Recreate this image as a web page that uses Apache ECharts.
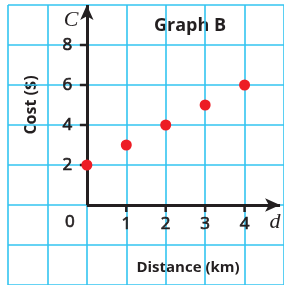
<!DOCTYPE html>
<html>
<head>
<meta charset="utf-8">
<script src="https://cdn.jsdelivr.net/npm/echarts@6/dist/echarts.min.js"></script>
<style>
  html, body { margin: 0; padding: 0; background: #ffffff; }
  #main { width: 284px; height: 285px; }
</style>
</head>
<body>
<div id="main"></div>
<script>
// data
const distance = [0, 1, 2, 3, 4];
const cost = [2, 3, 4, 5, 6];
const xTicks = [1, 2, 3, 4];
const yTicks = [2, 4, 6, 8];
// axis extents (value units)
const xRange = [-2, 5];
const yRange = [-4, 10];
const xAxisEnd = 4.9;
const yAxisEnd = 10;

const gridColor = '#33c5f0';
const ink = '#231f20';
const dotColor = '#ed1c24';
const sans = '"Open Sans", sans-serif';
const serif = '"Liberation Serif", serif';

const chart = echarts.init(document.getElementById('main'));

// 刻度文字样式
const tickLabel = {
  show: true,
  position: 'inside',
  color: ink,
  fontSize: 17,
  fontFamily: sans,
  textBorderColor: ink,
  textBorderWidth: 0.7,
};

const options = {
  animation: false,
  grid: { left: 8, top: 5, width: 280, height: 280, containLabel: false },
  xAxis: {
    type: 'value',
    min: xRange[0],
    max: xRange[1],
    interval: 1,
    axisLine: { show: false },
    axisTick: { show: false },
    axisLabel: { show: false },
    splitLine: { show: true, lineStyle: { color: gridColor, width: 1.6 } },
  },
  yAxis: {
    type: 'value',
    min: yRange[0],
    max: yRange[1],
    interval: 2,
    axisLine: { show: false },
    axisTick: { show: false },
    axisLabel: { show: false },
    splitLine: { show: true, lineStyle: { color: gridColor, width: 1.6 } },
  },
  graphic: [
    { type: 'text', x: 71, y: 20, style: { text: 'C', font: 'italic 22px ' + serif, fill: ink, align: 'center', verticalAlign: 'middle' } },
    { type: 'text', x: 275, y: 222, style: { text: 'd', font: 'italic 22px ' + serif, fill: ink, align: 'center', verticalAlign: 'middle' } },
    { type: 'text', x: 190, y: 26, style: { text: 'Graph B', font: 'bold 18px ' + sans, fill: ink, align: 'center', verticalAlign: 'middle' } },
    { type: 'text', x: 31, y: 105, rotation: Math.PI / 2, style: { text: 'Cost ($)', font: 'bold 16px ' + sans, fill: ink, align: 'center', verticalAlign: 'middle' } },
    { type: 'text', x: 188, y: 268, style: { text: 'Distance (km)', font: 'bold 15px ' + sans, fill: ink, align: 'center', verticalAlign: 'middle' } },
  ],
  series: [
    {
      // 坐标轴 (axes with arrows)
      type: 'scatter',
      z: 3,
      data: [],
      markLine: {
        silent: true,
        symbol: ['none', 'arrow'],
        symbolSize: [10, 15],
        label: { show: false },
        lineStyle: { color: ink, width: 3, type: 'solid', opacity: 1 },
        data: [
          [{ coord: [0, 0] }, { coord: [0, yAxisEnd] }],
          [{ coord: [0, 0] }, { coord: [xAxisEnd, 0] }],
        ],
      },
    },
    {
      // x ticks + labels
      type: 'scatter',
      z: 3,
      data: xTicks.map((v) => [v, 0]),
      symbol: 'rect',
      symbolSize: [2.5, 7],
      symbolOffset: [0, 3.5],
      itemStyle: { color: ink, opacity: 1 },
      label: { ...tickLabel, offset: [0, 16], formatter: (p) => String(p.value[0]) },
    },
    {
      // y ticks + labels
      type: 'scatter',
      z: 3,
      data: yTicks.map((v) => [0, v]),
      symbol: 'rect',
      symbolSize: [7, 2.5],
      symbolOffset: [-3.5, 0],
      itemStyle: { color: ink, opacity: 1 },
      label: { ...tickLabel, offset: [-16, 0], formatter: (p) => String(p.value[1]) },
    },
    {
      // origin label
      type: 'scatter',
      z: 3,
      data: [[0, 0]],
      symbolSize: 0,
      itemStyle: { opacity: 1 },
      label: { ...tickLabel, offset: [-17, 17], formatter: '0' },
    },
    {
      type: 'scatter',
      z: 5,
      data: distance.map((d, i) => [d, cost[i]]),
      symbolSize: 11,
      itemStyle: { color: dotColor, opacity: 1 },
    },
  ],
};
chart.setOption(options);
</script>
</body>
</html>
